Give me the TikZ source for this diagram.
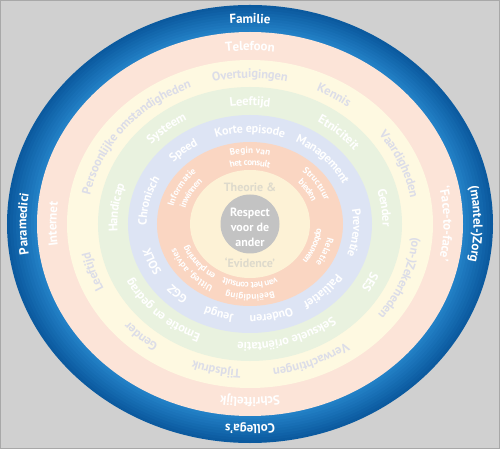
\documentclass[tikz,border=0pt]{standalone}
\usepackage{fontspec}
\setmainfont{PT Sans}
\usetikzlibrary{decorations.text}
\definecolor{bgc}{HTML}{D0D0D0}
\definecolor{framec}{HTML}{A8A8A8}
\definecolor{blueD}{HTML}{0B5A9F}
\definecolor{blueL}{HTML}{2584CA}
\definecolor{peach}{HTML}{FCE4D8}
\definecolor{ylw}{HTML}{FEF9E1}
\definecolor{grn}{HTML}{E9F2DF}
\definecolor{lav}{HTML}{DDE4F4}
\definecolor{slm}{HTML}{FAD6C2}
\definecolor{ylwin}{HTML}{FDF2D6}
\definecolor{gry}{HTML}{C3C3C3}
\definecolor{ytext}{HTML}{DCDDE8}
\definecolor{itext}{HTML}{DEDACC}
\newcommand{\fBig}{\bfseries\fontsize{13pt}{13pt}\selectfont}
\newcommand{\fMid}{\bfseries\fontsize{12.5pt}{12.5pt}\selectfont}
\newcommand{\fLav}{\bfseries\fontsize{12pt}{12pt}\selectfont}
\newcommand{\fSml}{\bfseries\fontsize{9.2pt}{9.2pt}\selectfont}
% #1 x radius, #2 y radius, #3 centre angle, #4 raise, #5 colour, #6 font, #7 text
\newcommand{\ringtext}[7]{%
  \path[decorate,decoration={text along path,text align=center,raise=#4,
      text color=#5,text={|#6|#7}}]
    ({#3+85}:#1pt and #2pt) arc[start angle={#3+85},end angle={#3-85},
      x radius=#1pt,y radius=#2pt];}
\begin{document}
\begin{tikzpicture}[x=1pt,y=1pt,
  ctext/.style={font=\bfseries\fontsize{12pt}{15pt}\selectfont,align=center,inner sep=0pt}]
\useasboundingbox (-250,-225) rectangle (250,224);
\fill[bgc] (-250,-225) rectangle (250,224);
\draw[framec,line width=1pt] (-249.5,-224.5) rectangle (249.5,223.5);
% blue ring with inner glow
\foreach \i in {0,...,9}{
  \pgfmathsetmacro\m{\i*10}
  \pgfmathsetmacro\ra{243-3*\i}
  \pgfmathsetmacro\rb{219-2.7*\i}
  \fill[color=blueL!\m!blueD] (0,0) ellipse[x radius=\ra pt,y radius=\rb pt];
}
\fill[peach] (0,0) ellipse[x radius=213pt,y radius=192pt];
\fill[ylw]   (0,0) ellipse[x radius=183pt,y radius=164pt];
\fill[grn]   (0,0) ellipse[x radius=152pt,y radius=137pt];
\fill[lav]   (0,0) ellipse[x radius=122pt,y radius=109pt];
\fill[slm]   (0,0) ellipse[x radius=93pt,y radius=82pt];
\fill[ylwin] (0,0) ellipse[x radius=60pt,y radius=54pt];
\fill[gry]   (0,0) circle[radius=29.5pt];
% blue ring
\ringtext{228}{205.5}{90}{-4.5pt}{white}{\fBig}{Familie}
\ringtext{228}{205.5}{0}{-4.5pt}{white}{\fBig}{(mantel-)Zorg}
\ringtext{228}{205.5}{-90}{-4.5pt}{white}{\fBig}{Collega’s}
\ringtext{228}{205.5}{180}{-4.5pt}{white}{\fBig}{Paramedici}
% peach ring
\ringtext{198}{178}{90}{-4.5pt}{white}{\fBig}{Telefoon}
\ringtext{198}{178}{0}{-4.5pt}{white}{\fBig}{‘Face-to-face’}
\ringtext{198}{178}{-90}{-4.5pt}{white}{\fBig}{Schriftelijk}
\ringtext{198}{178}{180}{-4.5pt}{white}{\fBig}{Internet}
% yellow ring
\ringtext{167.5}{150.5}{90}{-4.5pt}{ytext}{\fMid}{Overtuigingen}
\ringtext{167.5}{150.5}{57}{-4.5pt}{ytext}{\fMid}{Kennis}
\ringtext{167.5}{150.5}{22}{-4.5pt}{ytext}{\fMid}{Vaardigheden}
\ringtext{167.5}{150.5}{-20}{-4.5pt}{ytext}{\fMid}{(on-)Zekerheden}
\ringtext{167.5}{150.5}{-66}{-4.5pt}{ytext}{\fMid}{Verwachtingen}
\ringtext{167.5}{150.5}{-103}{-4.5pt}{ytext}{\fMid}{Tijdsdruk}
\ringtext{167.5}{150.5}{-134}{-4.5pt}{ytext}{\fMid}{Gender}
\ringtext{167.5}{150.5}{197}{-4.5pt}{ytext}{\fMid}{Leeftijd}
\ringtext{167.5}{150.5}{142}{-4.5pt}{ytext}{\fMid}{Persoonlijke omstandigheden}
% green ring
\ringtext{137}{123}{90}{-4.5pt}{white}{\fMid}{Leeftijd}
\ringtext{137}{123}{46}{-4.5pt}{white}{\fMid}{Etniciteit}
\ringtext{137}{123}{7}{-4.5pt}{white}{\fMid}{Gender}
\ringtext{137}{123}{-26}{-4.5pt}{white}{\fMid}{SES}
\ringtext{137}{123}{-72}{-4.5pt}{white}{\fMid}{Seksuele oriëntatie}
\ringtext{137}{123}{225}{-4.5pt}{white}{\fMid}{Emotie en gedrag}
\ringtext{137}{123}{173}{-4.5pt}{white}{\fMid}{Handicap}
\ringtext{137}{123}{131}{-4.5pt}{white}{\fMid}{Systeem}
% lavender ring
\ringtext{107.5}{95.5}{90}{-4.3pt}{white}{\fLav}{Korte episode}
\ringtext{107.5}{95.5}{42}{-4.3pt}{white}{\fLav}{Management}
\ringtext{107.5}{95.5}{-5}{-4.3pt}{white}{\fLav}{Preventie}
\ringtext{107.5}{95.5}{-43}{-4.3pt}{white}{\fLav}{Palliatief}
\ringtext{107.5}{95.5}{-77}{-4.3pt}{white}{\fLav}{Ouderen}
\ringtext{107.5}{95.5}{-109}{-4.3pt}{white}{\fLav}{Jeugd}
\ringtext{107.5}{95.5}{224}{-4.3pt}{white}{\fLav}{GGZ}
\ringtext{107.5}{95.5}{201}{-4.3pt}{white}{\fLav}{SOLK}
\ringtext{107.5}{95.5}{167}{-4.3pt}{white}{\fLav}{Chronisch}
\ringtext{107.5}{95.5}{132}{-4.3pt}{white}{\fLav}{Speed}
% salmon ring (two lines each)
\ringtext{76.5}{68}{90}{2.5pt}{white}{\fSml}{Begin van}
\ringtext{76.5}{68}{90}{-9.5pt}{white}{\fSml}{het consult}
\ringtext{76.5}{68}{31}{2.5pt}{white}{\fSml}{Structuur}
\ringtext{76.5}{68}{31}{-9.5pt}{white}{\fSml}{bieden}
\ringtext{76.5}{68}{-20}{2.5pt}{white}{\fSml}{Relatie}
\ringtext{76.5}{68}{-20}{-9.5pt}{white}{\fSml}{opbouwen}
\ringtext{76.5}{68}{-90}{2.5pt}{white}{\fSml}{Beëindiging}
\ringtext{76.5}{68}{-90}{-9.5pt}{white}{\fSml}{van het consult}
\ringtext{76.5}{68}{218}{2.5pt}{white}{\fSml}{Uitleg, advies}
\ringtext{76.5}{68}{218}{-9.5pt}{white}{\fSml}{en planning}
\ringtext{76.5}{68}{152}{2.5pt}{white}{\fSml}{Informatie}
\ringtext{76.5}{68}{152}{-9.5pt}{white}{\fSml}{inwinnen}
% inner texts
\node[ctext,text=itext] (theorie) at (0,37) {Theorie \&};
\node[ctext,text=itext] (evidence) at (0,-38.5) {‘Evidence’};
\node[ctext,text=white] (respect) at (0,-3) {Respect\\voor de\\ander};
\end{tikzpicture}
\end{document}
